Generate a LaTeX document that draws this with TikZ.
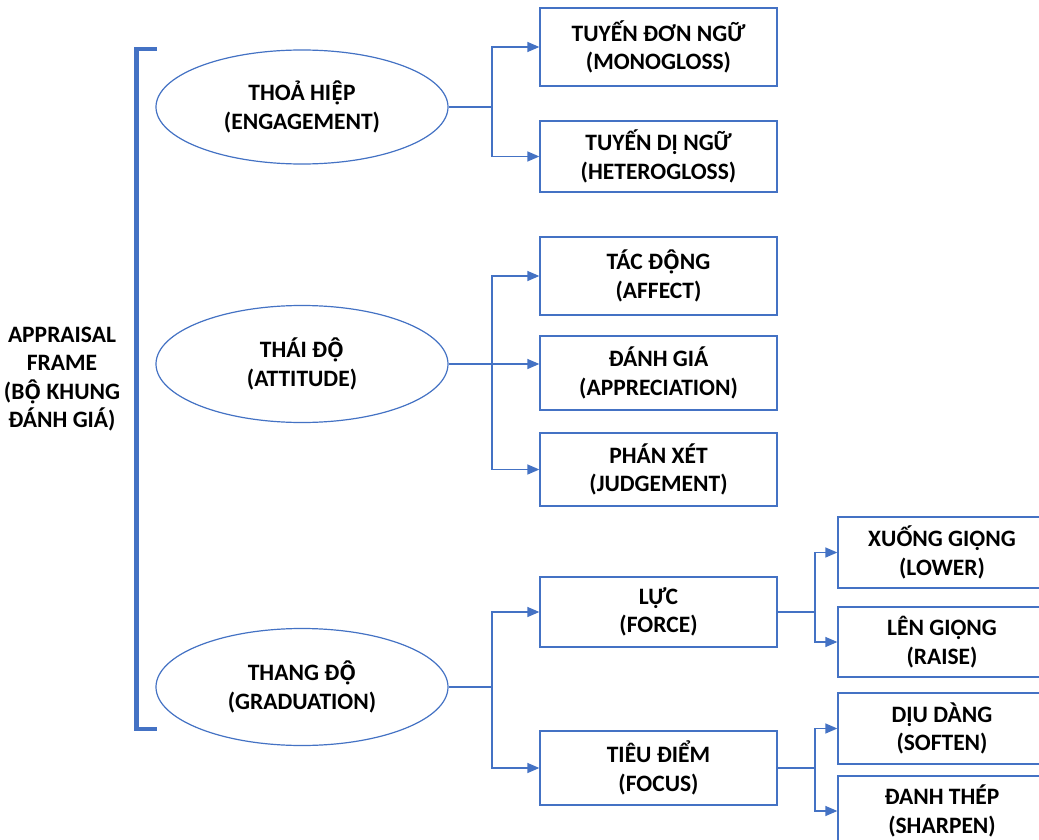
\documentclass[tikz,border=0pt]{standalone}
\usepackage{fontspec}
\setmainfont{Carlito}
\newfontfamily\vfb{Open Sans}[Scale=0.9]
\newcommand{\VOcd}{{\vfb Ộ}}
\newcommand{\VEcd}{{\vfb Ệ}}
\usetikzlibrary{arrows.meta,shapes.geometric}
\definecolor{blu}{HTML}{4472C4}
\begin{document}
\begin{tikzpicture}[x=1pt,y=-1pt,
  every node/.style={font=\fontsize{23.5}{28.5}\selectfont\bfseries, align=center, inner sep=0pt},
  box/.style={draw=blu, line width=1.3pt, rectangle, minimum width=237pt},
  sbox/.style={draw=blu, line width=1.3pt, rectangle, minimum width=208pt},
  oval/.style={draw=blu, line width=1.2pt, ellipse, minimum width=292pt, minimum height=117pt},
  conn/.style={draw=blu, line width=1.3pt, -{Triangle[length=12pt,width=10pt]}},
]
\clip (0,0) rectangle (1039,840);
\fill[white] (0,0) rectangle (1039,840);

% left title and bracket
\node (title) at (62,379) {APPRAISAL\\FRAME\\(B\VOcd{} KHUNG\\ĐÁNH GIÁ)};
\draw[blu, line width=4.5pt] (157,49) -- (136.5,49) -- (136.5,729) -- (157,729);

% ellipses
\node[oval, minimum height=114pt] (eng) at (302,107) {THOẢ HI\VEcd{}P\\(ENGAGEMENT)};
\node[oval] (att) at (302,364) {THÁI Đ\VOcd\\(ATTITUDE)};
\node[oval] (grad) at (302,687) {THANG Đ\VOcd\\(GRADUATION)};

% first-level boxes
\node[box, minimum height=78pt] (mono) at (658.5,47) {TUYẾN ĐƠN NGỮ\\(MONOGLOSS)};
\node[box, minimum height=71pt] (het) at (658.5,156.5) {TUYẾN DỊ NGỮ\\(HETEROGLOSS)};
\node[box, minimum height=78pt] (aff) at (658.5,276) {TÁC Đ\VOcd{}NG\\(AFFECT)};
\node[box, minimum height=74pt] (appr) at (658.5,373) {ĐÁNH GIÁ\\(APPRECIATION)};
\node[box, minimum height=73pt] (jud) at (658.5,469.5) {PHÁN XÉT\\(JUDGEMENT)};
\node[box, minimum height=70pt] (force) at (658.5,612) {LỰC\\(FORCE)};
\node[box, minimum height=74pt] (focus) at (658.5,768) {TIÊU ĐIỂM\\(FOCUS)};

% second-level boxes
\node[sbox, minimum height=71pt] (lower) at (942,552.5) {XUỐNG GIỌNG\\(LOWER)};
\node[sbox, minimum height=70pt] (raise) at (942,642) {LÊN GIỌNG\\(RAISE)};
\node[sbox, minimum height=71pt] (soft) at (942,728.5) {DỊU DÀNG\\(SOFTEN)};
\node[sbox, minimum height=70pt] (sharp) at (942,811) {ĐANH THÉP\\(SHARPEN)};

% branch columns
\coordinate (b1) at (492,0);
\coordinate (b2) at (815,0);

% connectors
\draw[conn] (eng.east) -- (b1 |- eng.east) |- (mono.west);
\draw[conn] (b1 |- eng.east) |- (het.west);

\draw[conn] (att.east) -- (appr.west |- att.east);
\draw[conn] (b1 |- att.east) |- (aff.west);
\draw[conn] (b1 |- att.east) |- (jud.west);

\draw[conn] (grad.east) -- (b1 |- grad.east) |- (force.west);
\draw[conn] (b1 |- grad.east) |- (focus.west);

\draw[conn] (force.east) -- (b2 |- force.east) |- (lower.west);
\draw[conn] (b2 |- force.east) |- (raise.west);

\draw[conn] (focus.east) -- (b2 |- focus.east) |- (soft.west);
\draw[conn] (b2 |- focus.east) |- (sharp.west);
\end{tikzpicture}
\end{document}
